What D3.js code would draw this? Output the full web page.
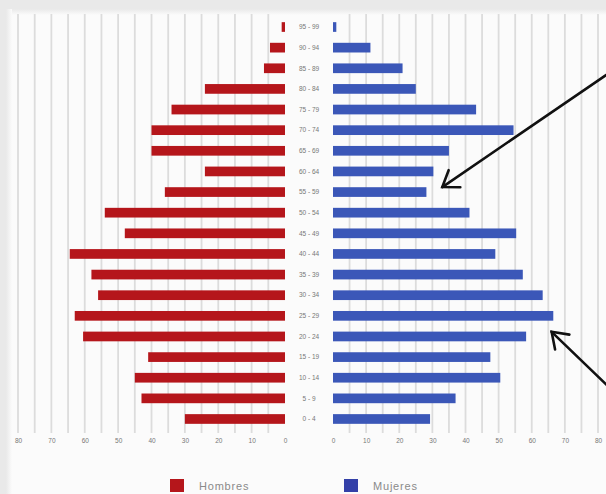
<!DOCTYPE html>
<html>
<head>
<meta charset="utf-8">
<script src="https://cdn.jsdelivr.net/npm/d3@7"></script>
<style>
  html, body { margin: 0; padding: 0; background: #ebebeb; overflow: hidden; }
  svg { display: block; }
</style>
</head>
<body>
<svg id="chart" width="606" height="494"></svg>
<script>
// Age groups, youngest first
const ageGroups = ["0 - 4", "5 - 9", "10 - 14", "15 - 19", "20 - 24", "25 - 29", "30 - 34",
  "35 - 39", "40 - 44", "45 - 49", "50 - 54", "55 - 59", "60 - 64", "65 - 69", "70 - 74",
  "75 - 79", "80 - 84", "85 - 89", "90 - 94", "95 - 99"];
// Men per age group (left side)
const hombres = [30, 43, 45, 41, 60.5, 63, 56, 58, 64.5, 48, 54, 36, 24, 40, 40, 34, 24, 6.3, 4.5, 1];
// Women per age group (right side)
const mujeres = [29.3, 37, 50.5, 47.5, 58.3, 66.5, 63.3, 57.3, 49, 55.3, 41.2, 28.2, 30.3, 35, 54.5, 43.2, 25, 21, 11.3, 1];
// Axis tick values
const tickValues = [0, 10, 20, 30, 40, 50, 60, 70, 80];
const gridValues = d3.range(5, 85, 5);
const seriesNames = ["Hombres", "Mujeres"];
const seriesColors = ["#b5161b", "#3b57b8"];

const svg = d3.select("#chart");

// Paper panel with a soft shaded top and left edge
const defs = svg.append("defs");
const gTop = defs.append("linearGradient").attr("id", "edgeTop").attr("x1", 0).attr("y1", 0).attr("x2", 0).attr("y2", 1);
gTop.append("stop").attr("offset", 0).attr("stop-color", "#e9e9e9");
gTop.append("stop").attr("offset", 1).attr("stop-color", "#fbfbfb");
const gLeft = defs.append("linearGradient").attr("id", "edgeLeft").attr("x1", 0).attr("y1", 0).attr("x2", 1).attr("y2", 0);
gLeft.append("stop").attr("offset", 0).attr("stop-color", "#e9e9e9");
gLeft.append("stop").attr("offset", 1).attr("stop-color", "#fbfbfb", 0);
svg.append("rect").attr("width", 606).attr("height", 494).attr("fill", "#e9e9e9");
svg.append("rect").attr("x", 6).attr("y", 9).attr("width", 600).attr("height", 485).attr("fill", "#fbfbfb");
svg.append("rect").attr("x", 6).attr("y", 9).attr("width", 600).attr("height", 6).attr("fill", "url(#edgeTop)");
svg.append("rect").attr("x", 6).attr("y", 9).attr("width", 6).attr("height", 485).attr("fill", "url(#edgeLeft)");

const xL = d3.scaleLinear().domain([0, 80]).range([285, 18]);
const xR = d3.scaleLinear().domain([0, 80]).range([333, 598]);
const y = d3.scaleBand().domain(ageGroups.slice().reverse()).range([16.7, 429.3])
  .paddingInner(0.53).paddingOuter(0.265);

// Vertical grid lines
const grid = svg.append("g").attr("stroke", "#dcdcdc").attr("stroke-width", 1.8);
grid.selectAll(".gl").data(gridValues).join("line")
  .attr("x1", d => xL(d)).attr("x2", d => xL(d)).attr("y1", 14).attr("y2", 433);
grid.selectAll(".gr").data(gridValues).join("line")
  .attr("x1", d => xR(d)).attr("x2", d => xR(d)).attr("y1", 14).attr("y2", 433);

// Bars
svg.append("g").selectAll("rect").data(hombres).join("rect")
  .attr("x", d => xL(d)).attr("y", (d, i) => y(ageGroups[i]))
  .attr("width", d => xL(0) - xL(d)).attr("height", y.bandwidth())
  .attr("fill", seriesColors[0]);
svg.append("g").selectAll("rect").data(mujeres).join("rect")
  .attr("x", xR(0)).attr("y", (d, i) => y(ageGroups[i]))
  .attr("width", d => xR(d) - xR(0)).attr("height", y.bandwidth())
  .attr("fill", seriesColors[1]);

// Age labels in the middle column
svg.append("g").selectAll("text").data(ageGroups).join("text")
  .attr("x", 309).attr("y", d => y(d) + y.bandwidth() / 2)
  .attr("dy", "0.35em").attr("text-anchor", "middle")
  .attr("font-family", "Liberation Sans, Arial, sans-serif").attr("font-size", 6.5)
  .attr("fill", "#777").text(d => d);

// Bottom axes
function axis(scale) {
  const g = svg.append("g").attr("transform", "translate(0,433)")
    .call(d3.axisBottom(scale).tickValues(tickValues).tickSize(0).tickPadding(5));
  g.select(".domain").remove();
  g.selectAll("text").attr("font-family", "Liberation Sans, Arial, sans-serif")
    .attr("font-size", 6.5).attr("fill", "#777");
}
axis(xL);
axis(xR);

// Legend
const legend = [
  { name: seriesNames[0], color: seriesColors[0], x: 170 },
  { name: seriesNames[1], color: "#3340a8", x: 344 }
];
const lg = svg.append("g").selectAll("g").data(legend).join("g")
  .attr("transform", d => `translate(${d.x},479)`);
lg.append("rect").attr("width", 14).attr("height", 13).attr("fill", d => d.color);
lg.append("text").attr("x", 29).attr("y", 11)
  .attr("font-family", "Liberation Sans, Arial, sans-serif").attr("font-size", 11)
  .attr("letter-spacing", 0.8).attr("fill", "#8a8a8a").text(d => d.name);

// Annotation arrows
function arrow(tip, tail) {
  const ang = Math.atan2(tail[1] - tip[1], tail[0] - tip[0]);
  const len = 18, spread = 35 * Math.PI / 180;
  const a1 = [tip[0] + len * Math.cos(ang - spread), tip[1] + len * Math.sin(ang - spread)];
  const a2 = [tip[0] + len * Math.cos(ang + spread), tip[1] + len * Math.sin(ang + spread)];
  const g = svg.append("g").attr("stroke", "#111").attr("stroke-width", 2.6)
    .attr("fill", "none").attr("stroke-linecap", "round");
  g.append("line").attr("x1", tip[0]).attr("y1", tip[1]).attr("x2", tail[0]).attr("y2", tail[1]);
  g.append("path").attr("d", `M${a1}L${tip}L${a2}`);
}
const yc = g => y(g) + y.bandwidth() / 2;
arrow([xR(33), yc("55 - 59") - 5], [612, 71]);
arrow([xR(66), yc("25 - 29") + 16], [612, 390]);
</script>
</body>
</html>
